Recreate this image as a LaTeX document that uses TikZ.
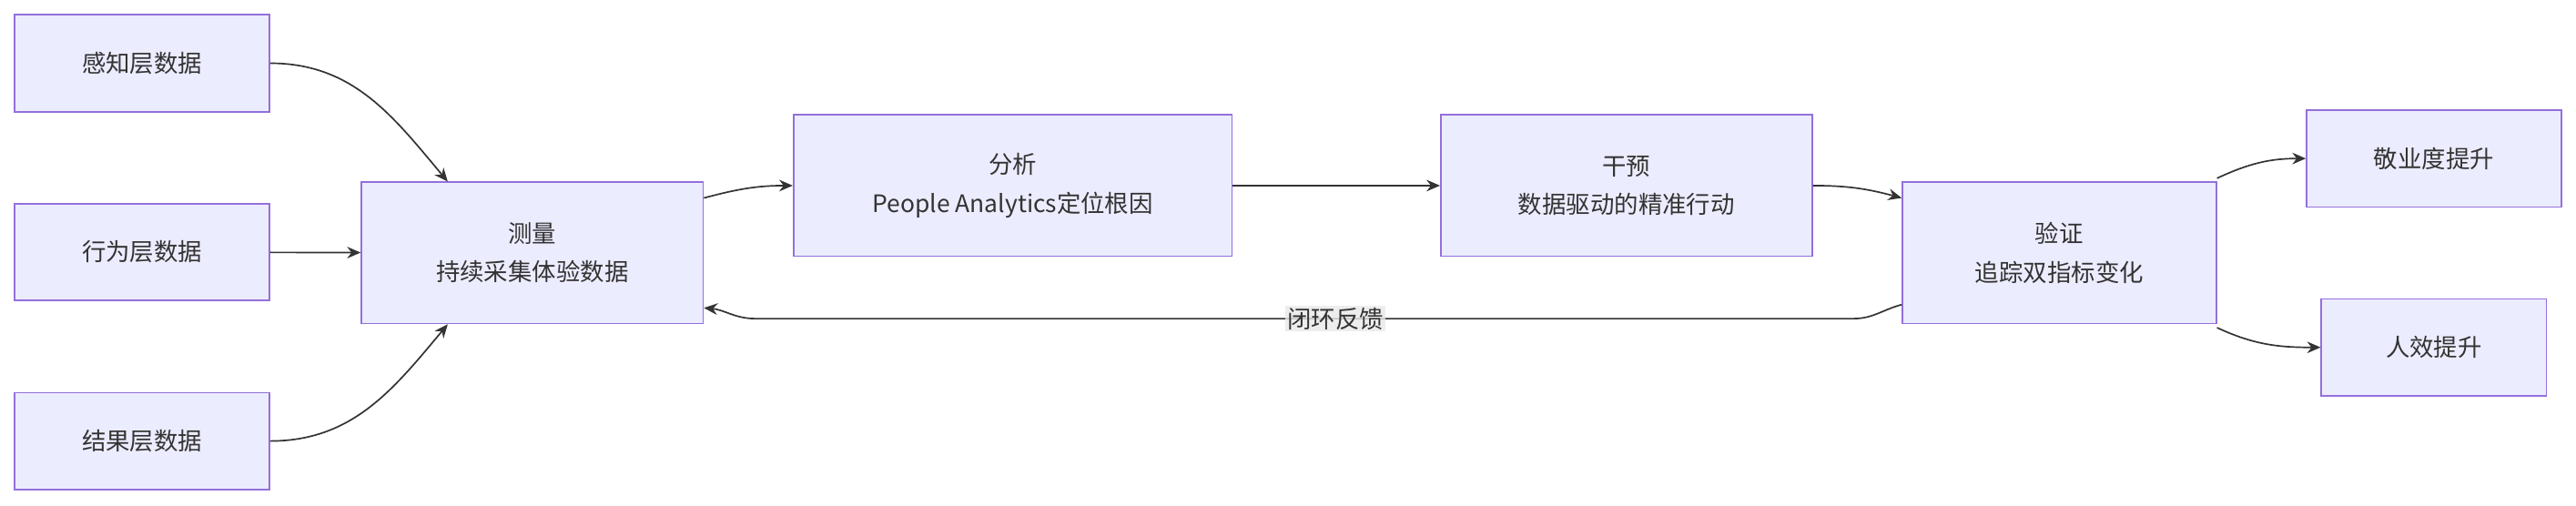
\documentclass[tikz,border=0pt]{standalone}
\usepackage{fontspec}
\setmainfont{Noto Sans CJK SC}
\usetikzlibrary{arrows.meta}
\usetikzlibrary{calc}
\definecolor{boxfill}{HTML}{ECECFF}
\definecolor{boxline}{HTML}{9370DB}
\definecolor{edgeline}{HTML}{333333}
\definecolor{lblfill}{HTML}{E8E8E8}
\tikzset{
  box/.style={draw=boxline, fill=boxfill, line width=0.8pt, align=center, inner sep=0pt,
    font=\fontsize{12.5}{20}\selectfont, text=edgeline},
  flow/.style={draw=edgeline, line width=0.8pt, -{Stealth[length=7pt,width=6pt]}}
}
\begin{document}
\begin{tikzpicture}[x=0.03cm, y=-0.03cm]
      \useasboundingbox (0,0) rectangle (1568,308);

      \node[box, minimum width=155*0.03cm, minimum height=59*0.03cm] (sense) at (86.5,38.5) {感知层数据};
      \node[box, minimum width=155*0.03cm, minimum height=59*0.03cm] (act) at (86.5,153.5) {行为层数据};
      \node[box, minimum width=155*0.03cm, minimum height=59*0.03cm] (res) at (86.5,268.5) {结果层数据};
      \node[box, minimum width=208*0.03cm, minimum height=86*0.03cm] (meas) at (324,154) {测量\\持续采集体验数据};
      \node[box, minimum width=267*0.03cm, minimum height=86*0.03cm] (anal) at (616.5,113) {分析\\People Analytics定位根因};
      \node[box, minimum width=226*0.03cm, minimum height=86*0.03cm] (intv) at (990,113) {干预\\数据驱动的精准行动};
      \node[box, minimum width=191*0.03cm, minimum height=86*0.03cm] (veri) at (1253.5,154) {验证\\追踪双指标变化};
      \node[box, minimum width=155*0.03cm, minimum height=59*0.03cm] (engage) at (1481.5,96.5) {敬业度提升};
      \node[box, minimum width=137*0.03cm, minimum height=59*0.03cm] (eff) at (1481.5,211.5) {人效提升};

      \draw[flow] (sense.east) to[out=0, in=130] ([xshift=53*0.03cm]meas.north west);
      \draw[flow] (act) -- (meas);
      \draw[flow] (res.east) to[out=0, in=-130] ([xshift=53*0.03cm]meas.south west);
      \draw[flow] ([yshift=-10*0.03cm]meas.north east) to[out=15, in=180] (anal.west);
      \draw[flow] (anal) -- (intv);
      \draw[flow] (intv.east) to[out=0, in=165] ([yshift=-10*0.03cm]veri.north west);
      \draw[flow] ([yshift=2*0.03cm]veri.north east) to[out=25, in=180] (engage.west);
      \draw[flow] ([yshift=-2*0.03cm]veri.south east) to[out=-25, in=180] (eff.west);

      % feedback loop
      \coordinate (fbR) at (1128,194);
      \coordinate (fbL) at (460,194);
      \draw[flow] ([yshift=12*0.03cm]veri.south west) to[out=-165, in=0] (fbR) -- (fbL)
        to[out=180, in=-5] ([yshift=10*0.03cm]meas.south east);
      \node[fill=lblfill, fill opacity=0.8, text opacity=1, inner sep=1pt, text=edgeline,
        font=\fontsize{12.5}{15}\selectfont] (fblabel) at (813,194) {闭环反馈};
\end{tikzpicture}
\end{document}
